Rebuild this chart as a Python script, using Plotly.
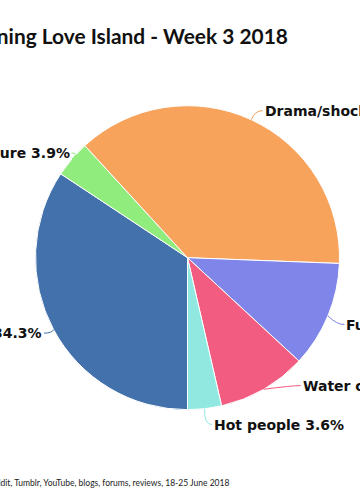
import math
import plotly.graph_objects as go

# ---- data ----
categories = ["Romance", "Guilty pleasure", "Drama/shock", "Fun", "Water cooler", "Hot people"]
shares = [34.3, 3.9, 37.4, 11.3, 9.5, 3.6]
colors = ["#4271ab", "#90ed7d", "#f7a35c", "#8085e9", "#f15c80", "#91e8e1"]
title_text = "Reasons for tuning in: Conversations concerning Love Island - Week 3 2018"
source_text = "Source: Twitter, Facebook, Instagram, Reddit, Tumblr, YouTube, blogs, forums, reviews, 18-25 June 2018"

# ---- layout constants (pixels) ----
W, H = 360, 500
CX, CY, R = 187.5, 257.7, 152
LABEL_R = 172
START = 180  # degrees clockwise from 12 o'clock
TEXT_PAD = 3  # inner padding of annotation boxes
# label nudges that mimic the collision handling of the original
nudge = {"Romance": (5, -6), "Guilty pleasure": (12, 7), "Drama/shock": (6, 9),
         "Fun": (1, 1), "Water cooler": (30, -21), "Hot people": (8, -4)}

def px(x):
    return x / W

def py(y):
    return 1 - y / H

fig = go.Figure(go.Pie(
    labels=categories, values=shares, sort=False, direction="clockwise",
    rotation=START, textinfo="none", hoverinfo="label+percent",
    marker=dict(colors=colors, line=dict(color="#ffffff", width=1)),
    domain=dict(x=[px(CX - R), px(CX + R)], y=[py(CY + R), py(CY - R)]),
    showlegend=False,
))

total = sum(shares)
annotations = []
shapes = []
cum = 0.0
for name, v, c in zip(categories, shares, colors):
    a0 = START + cum / total * 360
    cum += v
    a1 = START + cum / total * 360
    mid = math.radians((a0 + a1) / 2)
    s, co = math.sin(mid), math.cos(mid)
    rx, ry = CX + R * s, CY - R * co
    nx, ny = CX + LABEL_R * s, CY - LABEL_R * co
    dx, dy = nudge[name]
    lx, ly = nx + dx, ny + dy
    right = s > 0
    sign = 1 if right else -1
    ex = lx - 3 * sign
    cxp = ex - 8 * sign
    shapes.append(dict(
        type="path", xref="paper", yref="paper",
        path=f"M {px(rx)},{py(ry)} Q {px(cxp)},{py(ly)} {px(ex)},{py(ly)}",
        line=dict(color=c, width=1),
    ))
    annotations.append(dict(
        xref="paper", yref="paper", x=px(lx - TEXT_PAD * sign), y=py(ly),
        xanchor="left" if right else "right", yanchor="middle",
        text=f"<b>{name} {v:.1f}%</b>", showarrow=False,
        font=dict(family="DejaVu Sans", size=14, color="#111111"),
    ))

annotations.append(dict(
    xref="paper", yref="paper", x=px(287 + TEXT_PAD), y=py(35), xanchor="right", yanchor="middle",
    text=f"<b>{title_text}</b>", showarrow=False,
    font=dict(family="Lato", size=20.9, color="#111111"),
))
annotations.append(dict(
    xref="paper", yref="paper", x=px(228 + TEXT_PAD), y=py(483), xanchor="right", yanchor="middle",
    text=source_text, showarrow=False,
    font=dict(family="Lato", size=8.5, color="#222222"),
))

fig.update_layout(
    width=W, height=H, margin=dict(l=0, r=0, t=0, b=0),
    paper_bgcolor="#ffffff", plot_bgcolor="#ffffff",
    annotations=annotations, shapes=shapes,
)
fig.write_html("out.html")
